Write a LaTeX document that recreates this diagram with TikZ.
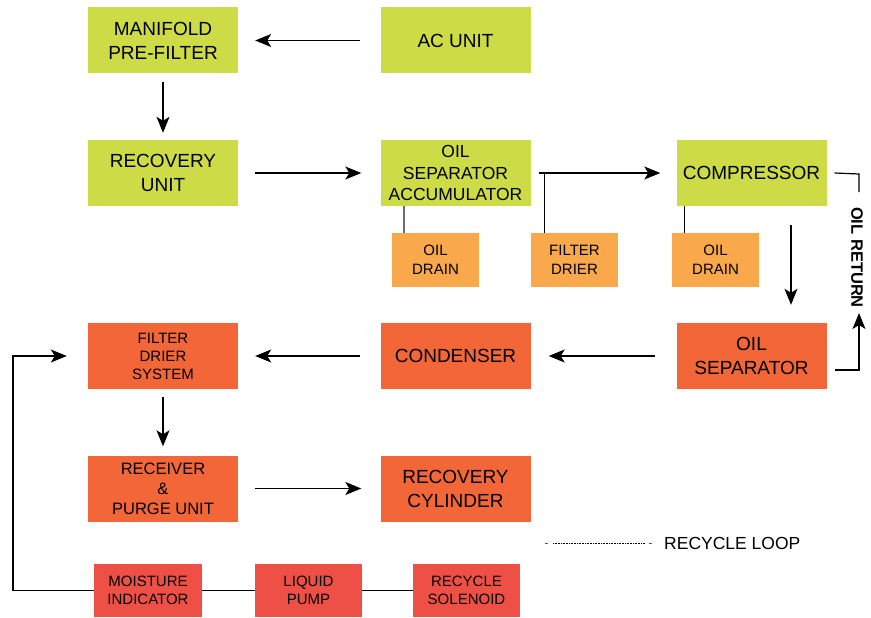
\documentclass[tikz,border=0pt]{standalone}
\usepackage{fontspec}
\setmainfont{Liberation Sans}
\usetikzlibrary{arrows.meta,calc}
\definecolor{cgreen}{RGB}{205,220,70}
\definecolor{corange}{RGB}{249,168,75}
\definecolor{cred}{RGB}{242,102,56}
\definecolor{cdred}{RGB}{239,80,69}
\tikzset{
  box/.style={inner sep=0pt, align=center, text=black},
  gbox/.style={box, fill=cgreen, minimum width=150pt, minimum height=66pt, font=\fontsize{19}{24}\selectfont},
  rbox/.style={box, fill=cred, minimum width=150pt, minimum height=66pt, font=\fontsize{19}{24}\selectfont},
  obox/.style={box, fill=corange, minimum width=87pt, minimum height=54pt, font=\fontsize{15}{19}\selectfont},
  dbox/.style={box, fill=cdred, minimum width=107pt, minimum height=53pt, font=\fontsize{15}{18}\selectfont},
  arr/.style={line width=1.2pt, -{Stealth[length=16pt,width=13pt,inset=4pt]}},
  ln/.style={line width=1.2pt},
}
\begin{document}
\begin{tikzpicture}[x=1pt,y=-1pt]
\useasboundingbox (0,0) rectangle (871,618);
% green row
\node[gbox] (mani) at (163,40.5) {MANIFOLD\\PRE-FILTER};
\node[gbox] (ac) at (455.5,40.5) {AC UNIT};
\node[gbox] (rec) at (163,173) {RECOVERY\\UNIT};
\node[gbox, font=\fontsize{17.5}{21.5}\selectfont] (osa) at (455.5,173) {OIL\\SEPARATOR\\ACCUMULATOR};
\node[gbox] (comp) at (751.5,173) {COMPRESSOR};
% orange small
\node[obox] (od1) at (435.5,260) {OIL\\DRAIN};
\node[obox] (fd) at (574.5,260) {FILTER\\DRIER};
\node[obox] (od2) at (715.5,260) {OIL\\DRAIN};
% red row
\node[rbox, font=\fontsize{15}{18}\selectfont] (fds) at (163,356) {FILTER\\DRIER\\SYSTEM};
\node[rbox] (cond) at (455.5,356) {CONDENSER};
\node[rbox] (osep) at (751.5,356) {OIL\\SEPARATOR};
\node[rbox, font=\fontsize{16.5}{20}\selectfont] (recv) at (163,488.5) {RECEIVER\\\&\\PURGE UNIT};
\node[rbox] (cyl) at (455.5,488.5) {RECOVERY\\CYLINDER};
% bottom
\node[dbox, minimum width=108pt] (moist) at (148,590.5) {MOISTURE\\INDICATOR};
\node[dbox] (pump) at (308.5,590.5) {LIQUID\\PUMP};
\node[dbox] (sol) at (466.5,590.5) {RECYCLE\\SOLENOID};
% arrows
\draw[arr, shorten <=20pt, shorten >=17pt] (ac.west) -- (mani.east);
\draw[arr, shorten <=8pt, shorten >=7pt] (mani.south) -- (rec.north);
\draw[arr, shorten <=17pt, shorten >=19pt] (rec.east) -- (osa.west);
\draw[arr, shorten <=8pt, shorten >=16pt] (osa.east) -- (comp.west);
\coordinate (fdtop) at ($(fd.north west)+(14,0)$);
\draw[ln] (fdtop |- osa.east) -- (fdtop);
\coordinate (od1top) at ($(od1.north west)+(12,0)$);
\draw[line width=2.2pt, gray!85!black] (od1top |- osa.south) -- (od1top);
\coordinate (od2top) at ($(od2.north west)+(13,0)$);
\draw[ln] (od2top |- comp.south) -- (od2top);
\coordinate (cx) at ($(comp.south)+(39.5,0)$);
\coordinate (ox) at ($(osep.north)+(39.5,0)$);
\draw[arr, shorten <=19pt, shorten >=18pt] (cx) -- (ox);
\draw[arr, shorten <=21pt, shorten >=18pt] (osep.west) -- (cond.east);
\draw[arr, shorten <=20pt, shorten >=17pt] (cond.west) -- (fds.east);
\draw[arr, shorten <=8pt, shorten >=9pt] (fds.south) -- (recv.north);
\draw[arr, shorten <=17pt, shorten >=19pt] (recv.east) -- (cyl.west);
% oil return
\coordinate (rt) at (859,174);
\coordinate (rb) at (859,370);
\draw[ln] ($(comp.east)+(8,0)$) -- (rt) -- ++(0,18);
\node[box, rotate=-90, font=\fontsize{16.5}{18}\selectfont\bfseries] (oilret) at (857,257.5) {OIL RETURN};
\draw[arr] ($(osep.east |- rb)+(8,0)$) -- (rb) -- ++(0,-57);
% recycle loop
\coordinate (ll) at (13,590.5);
\coordinate (lt) at (13,356);
\draw[arr, shorten >=21pt] (moist.west) -- (ll) -- (lt) -- (fds.west);
\draw[ln] (moist.east) -- (pump.west);
\draw[ln] (pump.east) -- (sol.west);
% legend
\coordinate (lg1) at (545,543);
\coordinate (lg2) at (553,543);
\coordinate (lg3) at (645,543);
\coordinate (lg4) at (649,543);
\draw[green!60!black, line width=0.6pt] (lg1) -- ++(3,0);
\draw[line width=0.9pt, dash pattern=on 0.8pt off 0.8pt] (lg2) -- (lg3);
\draw[green!60!black, line width=0.6pt] (lg4) -- ++(3,0);
\node[box, anchor=west, font=\fontsize{17.5}{20}\selectfont] (leg) at (664,543) {RECYCLE LOOP};
\end{tikzpicture}
\end{document}
